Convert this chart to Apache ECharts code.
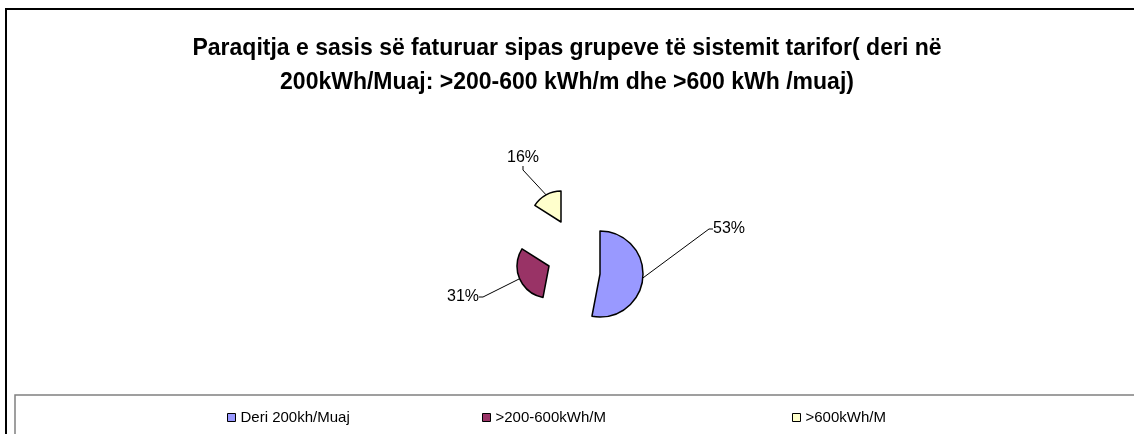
<!DOCTYPE html>
<html>
<head>
<meta charset="utf-8">
<script src="https://cdn.jsdelivr.net/npm/echarts@6/dist/echarts.min.js"></script>
<style>
  html, body { margin: 0; padding: 0; background: #fff; }
  #chart { width: 1134px; height: 434px; }
</style>
</head>
<body>
<div id="chart"></div>
<script>
// te dhenat e grafikut
var categories = ["Deri 200kh/Muaj", ">200-600kWh/M", ">600kWh/M"];
var shares = [53, 31, 16];
var colors = ["#9999FF", "#993366", "#FFFFCC"];

// cdo fete e shkeputur vizatohet si seri me vete
var centers = [[600, 274], [549, 266], [561, 222]];
var radii = [43, 32, 31];
var labelSpots = [
  { x: 711, y: 229, align: "left", verticalAlign: "middle" },
  { x: 481, y: 297, align: "right", verticalAlign: "middle" },
  { x: 541, y: 158, align: "right", verticalAlign: "middle" }
];
var legendLefts = [222, 477, 787];

var font = "'Liberation Sans', Arial, sans-serif";

var chart = echarts.init(document.getElementById("chart"));

var series = categories.map(function (cat, i) {
  return {
    type: "pie",
    name: cat,
    center: centers[i],
    radius: radii[i],
    startAngle: 90,
    clockwise: true,
    percentPrecision: 0,
    animation: false,
    silent: true,
    label: {
      formatter: "{d}%",
      fontSize: 16,
      color: "#000",
      fontFamily: font,
      padding: [0, 2]
    },
    labelLine: { length: 8, length2: 4, lineStyle: { color: "#000", width: 1 } },
    labelLayout: labelSpots[i],
    data: categories.map(function (name, j) {
      return {
        name: name,
        value: shares[j],
        itemStyle: j === i
          ? { color: colors[j], borderColor: "#000", borderWidth: 1.5 }
          : { color: "rgba(0,0,0,0)", borderWidth: 0 },
        label: { show: j === i },
        labelLine: { show: j === i }
      };
    })
  };
});

var legends = categories.map(function (cat, i) {
  return {
    left: legendLefts[i],
    top: 405,
    itemWidth: 8,
    itemHeight: 8,
    itemGap: 4,
    selectedMode: false,
    textStyle: { fontSize: 15, color: "#000", fontFamily: font },
    data: [{ name: cat, icon: "rect", itemStyle: { color: colors[i], borderColor: "#000", borderWidth: 1 } }]
  };
});

chart.setOption({
  backgroundColor: "#fff",
  title: {
    text: "Paraqitja e sasis së faturuar sipas grupeve të sistemit tarifor( deri në\n200kWh/Muaj: >200-600 kWh/m dhe >600 kWh /muaj)",
    left: "center",
    top: 27,
    textStyle: { fontSize: 23, fontWeight: "bold", color: "#000", fontFamily: font, lineHeight: 34, align: "center" }
  },
  legend: legends,
  graphic: [
    { type: "rect", silent: true, shape: { x: 6, y: 9, width: 1200, height: 500 }, style: { fill: "none", stroke: "#000", lineWidth: 2 } },
    { type: "rect", silent: true, shape: { x: 15, y: 395, width: 1200, height: 100 }, style: { fill: "none", stroke: "#808080", lineWidth: 1.5 } }
  ],
  series: series
});
</script>
</body>
</html>
